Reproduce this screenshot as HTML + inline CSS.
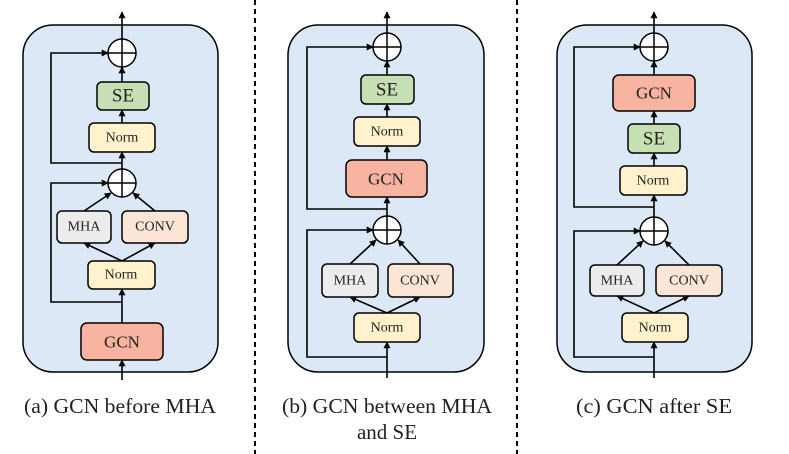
<!DOCTYPE html>
<html><head><meta charset="utf-8"><style>
html,body{margin:0;padding:0;background:#fff;}
svg{display:block;}
text{font-family:"Liberation Serif",serif;fill:#222;}
</style></head><body>
<svg width="789" height="454" viewBox="0 0 789 454" xmlns="http://www.w3.org/2000/svg">
<defs>
<marker id="a" viewBox="0 0 10 10" refX="9" refY="5" markerWidth="7" markerHeight="7" markerUnits="userSpaceOnUse" orient="auto"><path d="M0,0L10,5L0,10z" fill="#000"/></marker>
</defs>
<g stroke="#000" stroke-width="2" fill="none" stroke-dasharray="5,4">
<line x1="255" y1="0" x2="255" y2="454"/><line x1="517" y1="0" x2="517" y2="454"/>
</g>
<g stroke="#000" stroke-width="1.5">
<rect x="23" y="25" width="195" height="347" rx="30" fill="#dce8f5"/>
<rect x="288" y="25" width="196" height="347" rx="30" fill="#dce8f5"/>
<rect x="557" y="25" width="195" height="347" rx="30" fill="#dce8f5"/>
</g>
<g stroke="#000" stroke-width="1.6" fill="none" marker-end="url(#a)">
<line x1="122" y1="39" x2="122" y2="12"/>
<line x1="122" y1="82" x2="122" y2="67"/>
<line x1="122" y1="123" x2="122" y2="110"/>
<line x1="122" y1="169" x2="122" y2="152"/>
<polyline points="122,163 51,163 51,53 108,53"/>
<line x1="84" y1="211" x2="111" y2="193"/>
<line x1="155" y1="211" x2="133" y2="193"/>
<polyline points="122,261 84,243"/>
<polyline points="122,261 155,243"/>
<line x1="122" y1="323" x2="122" y2="289"/>
<polyline points="122,302 51,302 51,183 108,183"/>
<line x1="122" y1="380" x2="122" y2="360"/>
<line x1="387" y1="33" x2="387" y2="12"/>
<line x1="387" y1="75" x2="387" y2="61"/>
<line x1="387" y1="117" x2="387" y2="104"/>
<line x1="387" y1="160" x2="387" y2="146"/>
<line x1="387" y1="216" x2="387" y2="197"/>
<polyline points="387,209 307,209 307,47 373,47"/>
<line x1="350" y1="264" x2="376" y2="240"/>
<line x1="420" y1="264" x2="398" y2="240"/>
<polyline points="387,313 350,297"/>
<polyline points="387,313 420,297"/>
<line x1="387" y1="378" x2="387" y2="342"/>
<polyline points="387,357 307,357 307,230 373,230"/>
<line x1="654" y1="33" x2="654" y2="12"/>
<line x1="654" y1="75" x2="654" y2="61"/>
<line x1="654" y1="124" x2="654" y2="111"/>
<line x1="654" y1="166" x2="654" y2="153"/>
<line x1="654" y1="217" x2="654" y2="195"/>
<polyline points="654,207 574,207 574,47 640,47"/>
<line x1="617" y1="265" x2="643" y2="241"/>
<line x1="689" y1="265" x2="665" y2="241"/>
<polyline points="654,313 617,296"/>
<polyline points="654,313 689,296"/>
<line x1="654" y1="378" x2="654" y2="342"/>
<polyline points="654,357 574,357 574,231 640,231"/>
</g>
<g stroke="#000" stroke-width="1.5">
<circle cx="122" cy="53" r="14" fill="#fff"/><path d="M108,53H136M122,39V67"/>
<circle cx="122" cy="183" r="14" fill="#fff"/><path d="M108,183H136M122,169V197"/>
<circle cx="387" cy="47" r="14" fill="#fff"/><path d="M373,47H401M387,33V61"/>
<circle cx="387" cy="230" r="14" fill="#fff"/><path d="M373,230H401M387,216V244"/>
<circle cx="654" cy="47" r="14" fill="#fff"/><path d="M640,47H668M654,33V61"/>
<circle cx="654" cy="231" r="14" fill="#fff"/><path d="M640,231H668M654,217V245"/>
<rect x="97" y="82" width="52" height="28" rx="5" fill="#c6e0b4"/>
<rect x="89" y="123" width="66" height="29" rx="5" fill="#fff2cc"/>
<rect x="57" y="211" width="54" height="32" rx="5" fill="#ececec"/>
<rect x="122" y="211" width="66" height="32" rx="5" fill="#fbe5d6"/>
<rect x="88" y="261" width="67" height="28" rx="5" fill="#fff2cc"/>
<rect x="81" y="323" width="82" height="37" rx="6" fill="#f8b4a0"/>
<rect x="361" y="75" width="53" height="29" rx="5" fill="#c6e0b4"/>
<rect x="354" y="117" width="66" height="29" rx="5" fill="#fff2cc"/>
<rect x="346" y="160" width="81" height="37" rx="6" fill="#f8b4a0"/>
<rect x="322" y="264" width="56" height="33" rx="5" fill="#ececec"/>
<rect x="388" y="264" width="65" height="33" rx="5" fill="#fbe5d6"/>
<rect x="354" y="313" width="66" height="29" rx="5" fill="#fff2cc"/>
<rect x="613" y="75" width="82" height="36" rx="6" fill="#f8b4a0"/>
<rect x="628" y="124" width="52" height="29" rx="5" fill="#c6e0b4"/>
<rect x="620" y="166" width="67" height="29" rx="5" fill="#fff2cc"/>
<rect x="590" y="265" width="54" height="31" rx="5" fill="#ececec"/>
<rect x="656" y="265" width="66" height="31" rx="5" fill="#fbe5d6"/>
<rect x="622" y="313" width="66" height="29" rx="5" fill="#fff2cc"/>
</g>
<g text-anchor="middle" dominant-baseline="central">
<text x="123" y="96" font-size="19">SE</text>
<text x="122" y="138" font-size="14">Norm</text>
<text x="84" y="227" font-size="14">MHA</text>
<text x="155" y="227" font-size="14">CONV</text>
<text x="121" y="275" font-size="14">Norm</text>
<text x="122" y="342" font-size="17">GCN</text>
<text x="387" y="90" font-size="19">SE</text>
<text x="387" y="132" font-size="14">Norm</text>
<text x="386" y="179" font-size="17">GCN</text>
<text x="350" y="281" font-size="14">MHA</text>
<text x="420" y="281" font-size="14">CONV</text>
<text x="387" y="328" font-size="14">Norm</text>
<text x="654" y="93" font-size="17">GCN</text>
<text x="654" y="139" font-size="19">SE</text>
<text x="653" y="181" font-size="14">Norm</text>
<text x="617" y="281" font-size="14">MHA</text>
<text x="689" y="281" font-size="14">CONV</text>
<text x="655" y="328" font-size="14">Norm</text>
<text x="120" y="406" font-size="21" textLength="192" lengthAdjust="spacingAndGlyphs">(a) GCN before MHA</text>
<text x="387" y="406" font-size="21" textLength="210" lengthAdjust="spacingAndGlyphs">(b) GCN between MHA</text>
<text x="387" y="432" font-size="21">and SE</text>
<text x="654" y="406" font-size="21" textLength="156" lengthAdjust="spacingAndGlyphs">(c) GCN after SE</text>
</g>
</svg>
</body></html>
